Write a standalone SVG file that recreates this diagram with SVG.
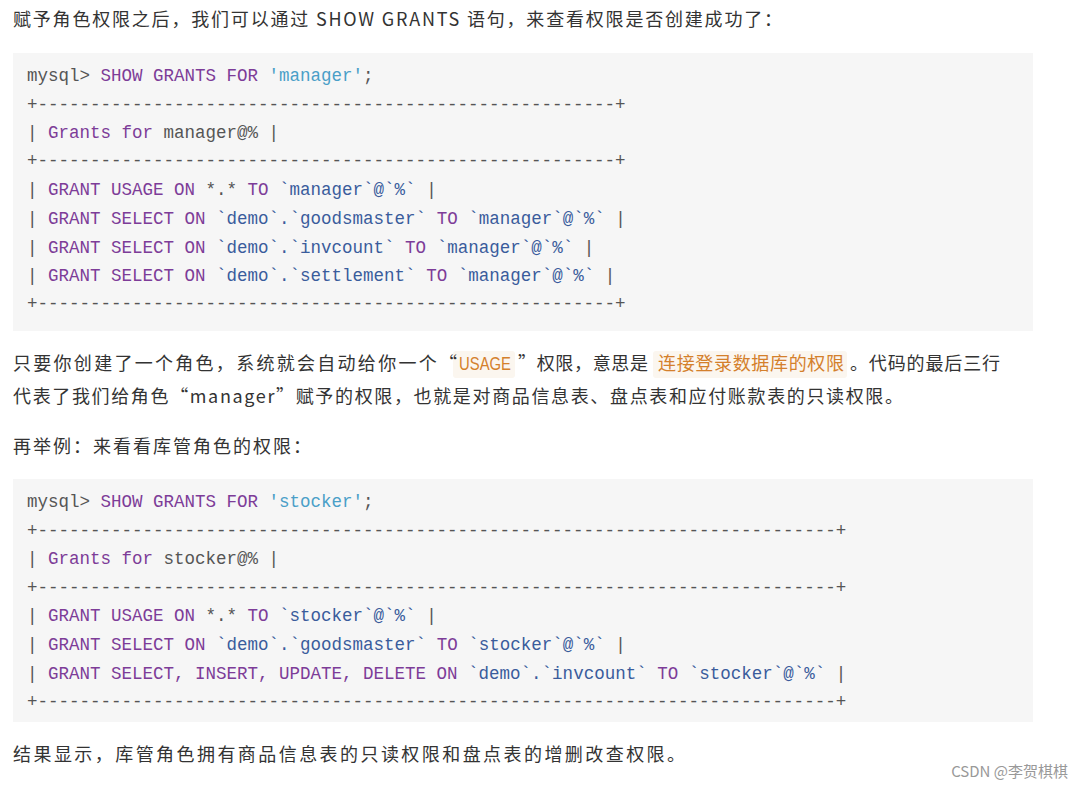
<svg xmlns="http://www.w3.org/2000/svg" width="1084" height="789" viewBox="0 0 1084 789">
<style>
.p{font-family:"Noto Sans CJK SC","Noto Sans",sans-serif;font-size:18px;fill:#333}
.c{font-family:"Liberation Mono",monospace;font-size:17.5px;fill:#555;white-space:pre}
.k{fill:#7d3c98}.s{fill:#4a9fc8}.i{fill:#3a5c9c}
.o{fill:#d4802c}
.bg{fill:#f6f6f6}
</style>
<rect width="1084" height="789" fill="#fff"/>
<text class="p" x="13" y="26" textLength="769" lengthAdjust="spacing">赋予角色权限之后，我们可以通过 SHOW GRANTS 语句，来查看权限是否创建成功了：</text>
<rect class="bg" x="13" y="53" width="1020" height="278"/>
<g>
<text class="c" x="27" y="81">mysql&gt; <tspan class="k">SHOW GRANTS FOR</tspan> <tspan class="s">'manager'</tspan>;</text>
<text class="c" x="27" y="110">+-------------------------------------------------------+</text>
<text class="c" x="27" y="138">| <tspan class="k">Grants for</tspan> manager@% |</text>
<text class="c" x="27" y="166">+-------------------------------------------------------+</text>
<text class="c" x="27" y="195">| <tspan class="k">GRANT USAGE ON</tspan> *.* <tspan class="k">TO</tspan> <tspan class="i">`manager`@`%`</tspan> |</text>
<text class="c" x="27" y="224">| <tspan class="k">GRANT SELECT ON</tspan> <tspan class="i">`demo`.`goodsmaster`</tspan> <tspan class="k">TO</tspan> <tspan class="i">`manager`@`%`</tspan> |</text>
<text class="c" x="27" y="253">| <tspan class="k">GRANT SELECT ON</tspan> <tspan class="i">`demo`.`invcount`</tspan> <tspan class="k">TO</tspan> <tspan class="i">`manager`@`%`</tspan> |</text>
<text class="c" x="27" y="281">| <tspan class="k">GRANT SELECT ON</tspan> <tspan class="i">`demo`.`settlement`</tspan> <tspan class="k">TO</tspan> <tspan class="i">`manager`@`%`</tspan> |</text>
<text class="c" x="27" y="309">+-------------------------------------------------------+</text>
</g>
<rect x="453" y="351" width="62" height="27" rx="3" fill="#fbf6ef"/>
<rect x="653" y="351" width="194" height="27" rx="3" fill="#fbf6ef"/>
<text class="p" x="13" y="370" textLength="444" lengthAdjust="spacing">只要你创建了一个角色，系统就会自动给你一个“</text>
<text class="p" x="459" y="370" style="font-family:'Liberation Sans',sans-serif" textLength="52" lengthAdjust="spacingAndGlyphs"><tspan class="o">USAGE</tspan></text>
<text class="p" x="518" y="370" textLength="130" lengthAdjust="spacing">”权限，意思是</text>
<text class="p o" x="658" y="370" textLength="186" lengthAdjust="spacing">连接登录数据库的权限</text>
<text class="p" x="850" y="370" textLength="150" lengthAdjust="spacing">。代码的最后三行</text>
<text class="p" x="13" y="403" textLength="890" lengthAdjust="spacing">代表了我们给角色“manager”赋予的权限，也就是对商品信息表、盘点表和应付账款表的只读权限。</text>
<text class="p" x="13" y="453" textLength="298" lengthAdjust="spacing">再举例：来看看库管角色的权限：</text>
<rect class="bg" x="13" y="479" width="1020" height="243"/>
<g>
<text class="c" x="27" y="507">mysql&gt; <tspan class="k">SHOW GRANTS FOR</tspan> <tspan class="s">'stocker'</tspan>;</text>
<text class="c" x="27" y="536">+----------------------------------------------------------------------------+</text>
<text class="c" x="27" y="564">| <tspan class="k">Grants for</tspan> stocker@% |</text>
<text class="c" x="27" y="593">+----------------------------------------------------------------------------+</text>
<text class="c" x="27" y="621">| <tspan class="k">GRANT USAGE ON</tspan> *.* <tspan class="k">TO</tspan> <tspan class="i">`stocker`@`%`</tspan> |</text>
<text class="c" x="27" y="650">| <tspan class="k">GRANT SELECT ON</tspan> <tspan class="i">`demo`.`goodsmaster`</tspan> <tspan class="k">TO</tspan> <tspan class="i">`stocker`@`%`</tspan> |</text>
<text class="c" x="27" y="679">| <tspan class="k">GRANT SELECT, INSERT, UPDATE, DELETE ON</tspan> <tspan class="i">`demo`.`invcount`</tspan> <tspan class="k">TO</tspan> <tspan class="i">`stocker`@`%`</tspan> |</text>
<text class="c" x="27" y="707">+----------------------------------------------------------------------------+</text>
</g>
<text class="p" x="13" y="761" textLength="672" lengthAdjust="spacing">结果显示，库管角色拥有商品信息表的只读权限和盘点表的增删改查权限。</text>
<text x="1068" y="777" text-anchor="end" style="font-family:'Noto Sans CJK SC','Noto Sans',sans-serif;font-size:15px;fill:#999">CSDN @李贺棋棋</text>
</svg>
